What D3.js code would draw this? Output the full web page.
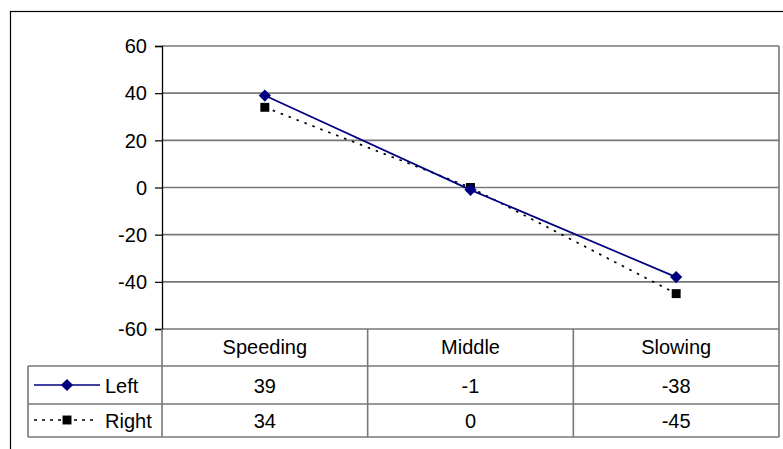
<!DOCTYPE html>
<html>
<head>
<meta charset="utf-8">
<script src="https://cdn.jsdelivr.net/npm/d3@7"></script>
<style>
  html, body { margin: 0; padding: 0; background: #fff; }
  svg { display: block; }
  text { font-family: "Liberation Sans", Arial, sans-serif; fill: #000; }
</style>
</head>
<body>
<svg id="chart" width="783" height="449"></svg>
<script>
// Category labels along the x axis / table header
const categories = ["Speeding", "Middle", "Slowing"];
// Series values
const seriesNames = ["Left", "Right"];
const leftValues = [39, -1, -38];
const rightValues = [34, 0, -45];
// Value axis ticks
const yTicks = [60, 40, 20, 0, -20, -40, -60];

const svg = d3.select("#chart");
const W = 783, H = 449;
const plot = { left: 162, right: 779, top: 46, bottom: 329 };
const table = { left: 28, headerBottom: 366, row1Bottom: 404, row2Bottom: 437 };
const fontSize = 20;
const gridColor = "#777";

const x = d3.scaleBand().domain(categories).range([plot.left, plot.right]).padding(0);
const y = d3.scaleLinear().domain([-60, 60]).range([plot.bottom, plot.top]);

// Outer chart frame (runs past the right and bottom edges)
svg.append("rect")
  .attr("x", 10.5).attr("y", 11.5)
  .attr("width", W + 20).attr("height", H + 20)
  .attr("fill", "#fff").attr("stroke", "#000").attr("stroke-width", 1.2);

// Horizontal gridlines
svg.append("g")
  .selectAll("line")
  .data(yTicks)
  .join("line")
  .attr("x1", plot.left).attr("x2", plot.right)
  .attr("y1", d => y(d)).attr("y2", d => y(d))
  .attr("stroke", gridColor).attr("stroke-width", 1.6);

// Plot area right edge
svg.append("line")
  .attr("x1", plot.right).attr("x2", plot.right)
  .attr("y1", plot.top).attr("y2", plot.bottom)
  .attr("stroke", gridColor).attr("stroke-width", 1.6);

// Value axis
const yAxis = d3.axisLeft(y).tickValues(yTicks).tickSize(7).tickPadding(8).tickFormat(d => String(d));
const gy = svg.append("g").attr("transform", `translate(${plot.left},0)`).call(yAxis);
gy.attr("font-family", null).attr("font-size", null);
gy.select(".domain").attr("stroke", "#000").attr("stroke-width", 1.3);
gy.selectAll(".tick line").attr("stroke", "#000").attr("stroke-width", 1.2);
gy.selectAll(".tick text")
  .attr("font-size", fontSize)
  .attr("fill", "#000")
  .attr("dy", "0.34em");

// Data table grid
const tg = svg.append("g").attr("stroke", gridColor).attr("stroke-width", 1.6);
// category column dividers and right edge
categories.slice(1).concat([null]).forEach(c => {
  const xx = c === null ? plot.right : x(c);
  tg.append("line").attr("x1", xx).attr("x2", xx)
    .attr("y1", plot.bottom).attr("y2", table.row2Bottom);
});
// axis continuation through the table
tg.append("line").attr("x1", plot.left).attr("x2", plot.left)
  .attr("y1", plot.bottom).attr("y2", table.row2Bottom);
// legend column left edge
tg.append("line").attr("x1", table.left).attr("x2", table.left)
  .attr("y1", table.headerBottom).attr("y2", table.row2Bottom);
// row separators
[table.headerBottom, table.row1Bottom, table.row2Bottom].forEach(yy => {
  tg.append("line").attr("x1", table.left).attr("x2", plot.right)
    .attr("y1", yy).attr("y2", yy);
});

// Header row: category names
svg.append("g").selectAll("text")
  .data(categories)
  .join("text")
  .attr("x", d => x(d) + x.bandwidth() / 2)
  .attr("y", 354)
  .attr("text-anchor", "middle")
  .attr("font-size", fontSize)
  .text(d => d);

// Series styling
const series = [
  { name: seriesNames[0], values: leftValues, color: "#000080", dash: null, marker: "diamond", rowBase: 393, rowMid: 385 },
  { name: seriesNames[1], values: rightValues, color: "#000000", dash: "2.5,6", marker: "square", rowBase: 428, rowMid: 420 }
];

const diamond = d3.symbol().type(d3.symbolDiamond2).size(95);
const square = d3.symbol().type(d3.symbolSquare).size(80);

function marker(g, s, cx, cy) {
  g.append("path")
    .attr("d", s.marker === "diamond" ? diamond() : square())
    .attr("transform", `translate(${cx},${cy})`)
    .attr("fill", s.color);
}

const line = d3.line()
  .x((d, i) => x(categories[i]) + x.bandwidth() / 2)
  .y(d => y(d));

// Dotted series first so the solid navy line sits on top
[series[1], series[0]].forEach(s => {
  const g = svg.append("g");
  g.append("path")
    .attr("d", line(s.values))
    .attr("fill", "none")
    .attr("stroke", s.color)
    .attr("stroke-width", 1.7)
    .attr("stroke-dasharray", s.dash);
  s.values.forEach((v, i) => marker(g, s, x(categories[i]) + x.bandwidth() / 2, y(v)));
});

// Value rows with legend keys
series.forEach(s => {
  const g = svg.append("g");
  g.append("line")
    .attr("x1", 34).attr("x2", s.dash ? 97 : 100)
    .attr("y1", s.rowMid).attr("y2", s.rowMid)
    .attr("stroke", s.color).attr("stroke-width", 1.7)
    .attr("stroke-dasharray", s.dash ? "3,5" : null);
  marker(g, s, 67, s.rowMid);
  g.append("text")
    .attr("x", 105).attr("y", s.rowBase)
    .attr("font-size", fontSize)
    .text(s.name);
  g.selectAll("text.val")
    .data(s.values)
    .join("text")
    .attr("class", "val")
    .attr("x", (d, i) => x(categories[i]) + x.bandwidth() / 2)
    .attr("y", s.rowBase)
    .attr("text-anchor", "middle")
    .attr("font-size", fontSize)
    .text(d => d);
});
</script>
</body>
</html>
